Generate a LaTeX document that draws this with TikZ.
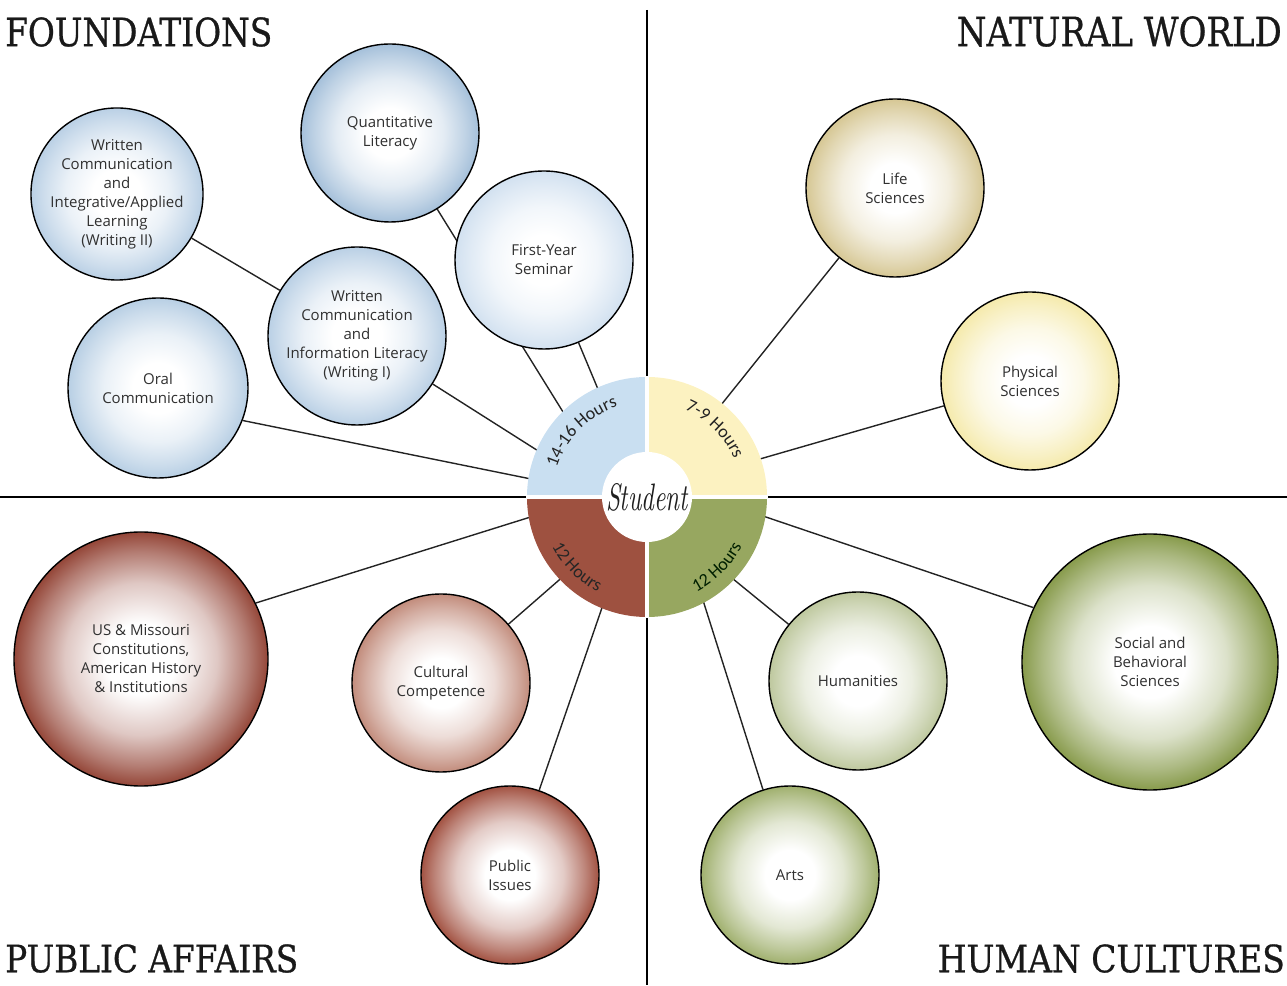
\documentclass[tikz,border=0pt]{standalone}
\usepackage{fontspec}
\usepackage{graphicx}
\usetikzlibrary{backgrounds,decorations.text}
\newfontfamily\bubfont{Open Sans}
\newfontfamily\titlefont[FakeBold=0.8]{DejaVu Serif}
\newfontfamily\wheelfont{Carlito}
\definecolor{wblue}{RGB}{201,223,241}
\definecolor{wyellow}{RGB}{252,242,193}
\definecolor{wbrown}{RGB}{158,81,64}
\definecolor{wgreen}{RGB}{151,167,96}
\definecolor{bubtxt}{RGB}{48,48,48}
\definecolor{wtxt}{RGB}{35,35,35}
\definecolor{linecol}{RGB}{35,35,35}
\definecolor{eql}{RGB}{165,192,218}
\definecolor{ewii}{RGB}{186,208,229}
\definecolor{efys}{RGB}{210,225,240}
\definecolor{ewi}{RGB}{186,208,229}
\definecolor{eoral}{RGB}{184,207,228}
\definecolor{elife}{RGB}{214,199,148}
\definecolor{ephys}{RGB}{245,234,172}
\definecolor{eus}{RGB}{148,70,56}
\definecolor{ecul}{RGB}{194,140,124}
\definecolor{epub}{RGB}{162,82,66}
\definecolor{ehum}{RGB}{190,200,158}
\definecolor{esoc}{RGB}{136,155,76}
\definecolor{earts}{RGB}{160,176,110}
\colorlet{edgecol}{white}
\pgfdeclareradialshading[edgecol]{softball}{\pgfpoint{0bp}{0bp}}{color(0bp)=(white); color(7bp)=(white); color(15bp)=(edgecol!30!white); color(21bp)=(edgecol!70!white); color(25bp)=(edgecol); color(50bp)=(edgecol)}
\begin{document}
\begin{tikzpicture}[x=1pt,y=1pt,
  bub/.style 2 args={circle, draw=black, line width=1.4pt, inner sep=0pt,
    minimum size=#1, /utils/exec={\colorlet{edgecol}{#2}}, shading=softball,
    text=bubtxt, align=center,
    font=\bubfont\fontsize{15pt}{19pt}\selectfont},
  conn/.style={draw=linecol, line width=1.4pt},
  axis/.style={draw=black, line width=2.6pt},
  ttl/.style={inner sep=0pt, text=black!90}
]
\useasboundingbox (0,0) rectangle (1287,985);

% bubbles
\node[bub={178pt}{eql}] (ql) at (390,852) {Quantitative\\Literacy};
\node[bub={162pt}{ewii}] (wii) at (117,791) {Written\\Communication\\and\\Integrative/Applied\\Learning\\(Writing II)};
\node[bub={178pt}{efys}] (fys) at (544,725) {First-Year\\Seminar};
\node[bub={178pt}{ewi}] (wi) at (357,649) {Written\\Communication\\and\\Information Literacy\\(Writing I)};
\node[bub={180pt}{eoral}] (oral) at (158,597) {Oral\\Communication};
\node[bub={178pt}{elife}] (life) at (895,797) {Life\\Sciences};
\node[bub={178pt}{ephys}] (phys) at (1030,604) {Physical\\Sciences};
\node[bub={254pt}{eus}] (us) at (141,326) {US \& Missouri\\Constitutions,\\American History\\\& Institutions};
\node[bub={178pt}{ecul}] (cul) at (441,302) {Cultural\\Competence};
\node[bub={178pt}{epub}] (pub) at (510,110) {Public\\Issues};
\node[bub={178pt}{ehum}] (hum) at (858,304) {Humanities};
\node[bub={256pt}{esoc}] (soc) at (1150,323) {Social and\\Behavioral\\Sciences};
\node[bub={178pt}{earts}] (arts) at (790,110) {Arts};

% wheel end points of connectors
\coordinate (wc) at (647,488);
\coordinate (qlw) at (568,565);
\coordinate (fysw) at (600,591);
\coordinate (wiw) at (543,531);
\coordinate (oralw) at (536,505);
\coordinate (lifew) at (717,575);
\coordinate (physw) at (753,524);
\coordinate (usw) at (537,470);
\coordinate (culw) at (566,411);
\coordinate (pubw) at (605,386);
\coordinate (humw) at (727,411);
\coordinate (artsw) at (701,391);
\coordinate (socw) at (757,471);
\coordinate (hl) at (0,488);
\coordinate (hr) at (1287,488);
\coordinate (vt) at (647,975);
\coordinate (vb) at (647,0);

\begin{pgfonlayer}{background}
  \path[axis] (hl) -- (hr);
  \path[axis] (vt) -- (vb);
  \path[conn] (ql) -- (qlw);
  \path[conn] (fys) -- (fysw);
  \path[conn] (wii) -- (wi);
  \path[conn] (wi) -- (wiw);
  \path[conn] (oral.-21) -- (oralw);
  \path[conn] (life) -- (lifew);
  \path[conn] (phys) -- (physw);
  \path[conn] (us.26) -- (usw);
  \path[conn] (cul) -- (culw);
  \path[conn] (pub) -- (pubw);
  \path[conn] (hum) -- (humw);
  \path[conn] (arts) -- (artsw);
  \path[conn] (soc.155.8) -- (socw);
\end{pgfonlayer}

% wheel
\fill[wblue] (wc) -- ++(180:120pt) arc[start angle=180, end angle=90, radius=120pt] -- cycle;
\fill[wyellow] (wc) -- ++(90:120pt) arc[start angle=90, end angle=0, radius=120pt] -- cycle;
\fill[wbrown] (wc) -- ++(180:120pt) arc[start angle=180, end angle=270, radius=120pt] -- cycle;
\fill[wgreen] (wc) -- ++(270:120pt) arc[start angle=270, end angle=360, radius=120pt] -- cycle;
\draw[white, line width=4pt] (526,488) -- (768,488);
\draw[white, line width=4pt] (647,367) -- (647,609);
\node[circle, fill=white, minimum size=90pt, inner sep=0pt, text=black!88] (student) at (wc)
  {\resizebox{82pt}{27pt}{\itshape Student}};

\path[decorate, decoration={text along path, text align=center,
  text={|\wheelfont\fontsize{18pt}{20pt}\selectfont\color{wtxt}|14-16 Hours}}]
  (552,488) arc[start angle=180, end angle=90, radius=95pt];
\path[decorate, decoration={text along path, text align=center,
  text={|\wheelfont\fontsize{18pt}{20pt}\selectfont\color{wtxt}|7-9 Hours}}]
  (647,583) arc[start angle=90, end angle=0, radius=95pt];
\path[decorate, decoration={text along path, text align=center,
  text={|\wheelfont\fontsize{18pt}{20pt}\selectfont\color{black!85}|12 Hours}}]
  (540,488) arc[start angle=180, end angle=270, radius=107pt];
\path[decorate, decoration={text along path, text align=center,
  text={|\wheelfont\fontsize{18pt}{20pt}\selectfont\color{black!80!green!60!black}|12 Hours}}]
  (647,381) arc[start angle=270, end angle=360, radius=107pt];

% titles
\node[ttl, anchor=south west] (tfound) at (5,938) {\resizebox{267pt}{29pt}{\titlefont FOUNDATIONS}};
\node[ttl, anchor=south east] (tnat) at (1282,938) {\resizebox{325pt}{30pt}{\titlefont NATURAL WORLD}};
\node[ttl, anchor=south west] (tpub) at (5,12) {\resizebox{293pt}{28pt}{\titlefont PUBLIC AFFAIRS}};
\node[ttl, anchor=south east] (thum) at (1285,12) {\resizebox{347pt}{28pt}{\titlefont HUMAN CULTURES}};
\end{tikzpicture}
\end{document}
